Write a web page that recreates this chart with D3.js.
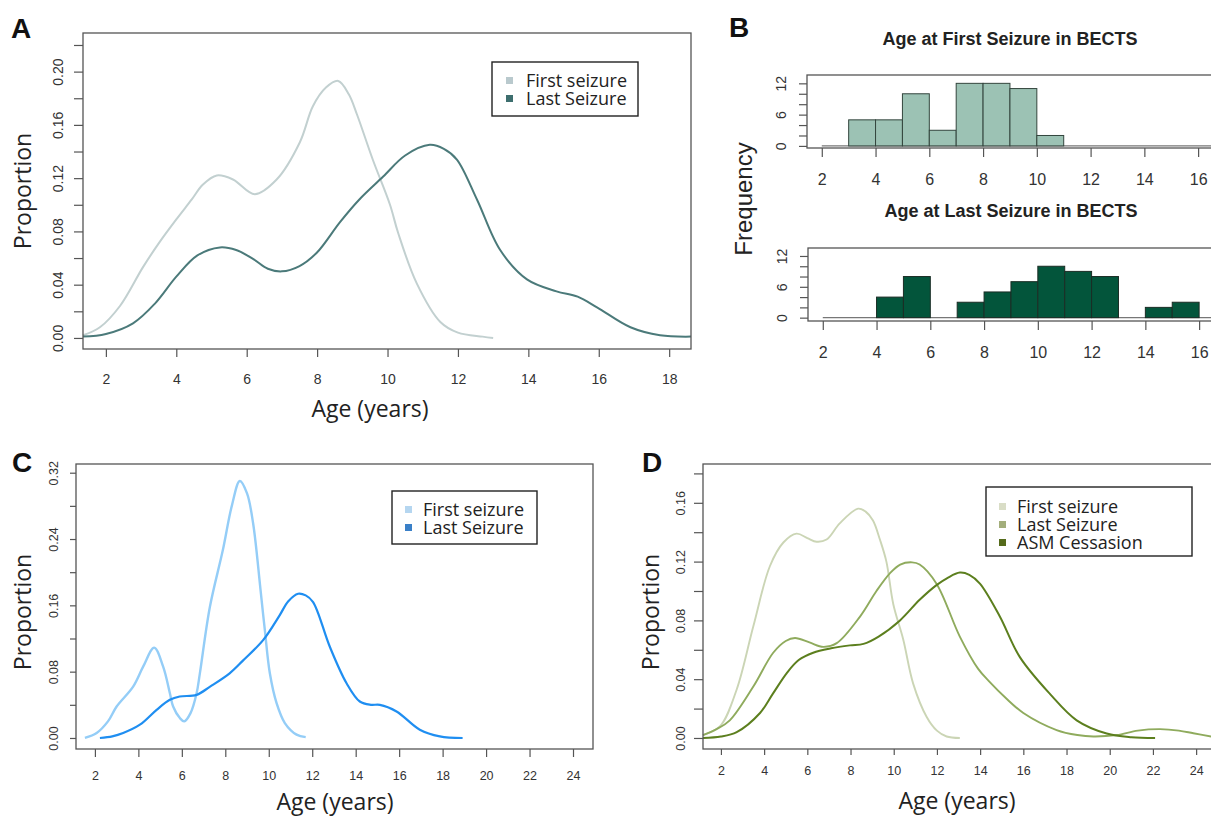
<!DOCTYPE html>
<html>
<head>
<meta charset="utf-8">
<script src="https://cdn.jsdelivr.net/npm/d3@7"></script>
<style>
  body { margin: 0; background: #fff; }
  svg { display: block; }
</style>
</head>
<body>
<svg id="fig" width="1211" height="817"></svg>
<script>
// ---------- data ----------

// panel A : density of age (years) -> proportion
var ageTicksA = [2, 4, 6, 8, 10, 12, 14, 16, 18];
var propTicksA = [0, 0.02, 0.04, 0.06, 0.08, 0.10, 0.12, 0.14, 0.16, 0.18, 0.20, 0.22];
var firstA = [[1.35,0.002],[1.83,0.008],[2.4,0.024],[3.05,0.053],[3.5,0.071],[4.0,0.089],[4.44,0.104],
  [4.75,0.115],[5.15,0.122],[5.61,0.119],[6.23,0.108],[6.85,0.119],[7.51,0.147],[7.88,0.174],[8.25,0.188],
  [8.6,0.193],[8.9,0.183],[9.13,0.168],[9.58,0.134],[10.07,0.100],[10.3,0.079],[10.83,0.041],[11.5,0.012],
  [12.0,0.004],[12.7,0.001],[13.0,0.0]];
var lastA = [[1.35,0.001],[2.0,0.003],[2.77,0.011],[3.4,0.026],[4.0,0.046],[4.6,0.062],[5.24,0.068],
  [5.7,0.066],[6.2,0.059],[6.6,0.052],[7.0,0.050],[7.5,0.054],[7.99,0.064],[8.65,0.087],[9.2,0.104],
  [9.87,0.121],[10.5,0.137],[11.2,0.145],[11.6,0.142],[11.97,0.134],[12.54,0.104],[13.2,0.066],
  [13.96,0.044],[14.8,0.035],[15.4,0.031],[15.95,0.023],[16.9,0.008],[17.74,0.002],[18.62,0.001]];

// panel B : histograms, one-year bins starting at these ages
var binStarts = [2, 3, 4, 5, 6, 7, 8, 9, 10, 11, 12, 13, 14, 15, 16];
var firstCounts = [0, 5, 5, 10, 3, 12, 12, 11, 2, 0, 0, 0, 0, 0, 0];
var lastCounts  = [0, 0, 4, 8, 0, 3, 5, 7, 10, 9, 8, 0, 2, 3, 0];
var ageTicksB = [2, 4, 6, 8, 10, 12, 14, 16];
var freqTicksB = [0, 2, 4, 6, 8, 10, 12];

// panel C
var ageTicksCD = [2, 4, 6, 8, 10, 12, 14, 16, 18, 20, 22, 24];
var propTicksC = [0, 0.04, 0.08, 0.12, 0.16, 0.20, 0.24, 0.28, 0.32];
var firstC = [[1.54,0.0],[2.08,0.006],[2.6,0.02],[3.0,0.038],[3.76,0.062],[4.22,0.086],[4.73,0.109],
  [5.14,0.086],[5.45,0.054],[5.6,0.038],[5.91,0.024],[6.11,0.02],[6.4,0.03],[6.68,0.054],[6.83,0.078],
  [7.29,0.158],[7.89,0.227],[8.3,0.28],[8.67,0.31],[9.0,0.295],[9.28,0.259],[9.62,0.179],[9.82,0.130],
  [10.05,0.078],[10.36,0.042],[10.74,0.018],[11.28,0.004],[11.7,0.001]];
var lastC = [[2.23,0.0],[2.8,0.002],[3.3,0.006],[4.07,0.016],[4.84,0.034],[5.45,0.046],[5.9,0.050],
  [6.68,0.052],[7.3,0.062],[8.2,0.078],[8.8,0.093],[9.74,0.118],[10.5,0.148],[10.9,0.165],[11.35,0.174],
  [11.7,0.172],[12.04,0.164],[12.81,0.110],[13.58,0.066],[14.19,0.044],[14.7,0.040],[15.11,0.040],
  [15.88,0.032],[16.95,0.010],[17.87,0.002],[18.92,0.0]];

// panel D
var propTicksD = [0, 0.02, 0.04, 0.06, 0.08, 0.10, 0.12, 0.14, 0.16, 0.18];
var firstD = [[1.17,0.002],[1.96,0.008],[2.73,0.033],[3.5,0.076],[4.27,0.117],[4.89,0.133],[5.5,0.139],
  [6.0,0.136],[6.43,0.1335],[6.89,0.135],[7.5,0.146],[8.35,0.156],[8.7,0.154],[9.04,0.148],[9.36,0.135],
  [9.66,0.120],[9.98,0.091],[10.44,0.067],[10.9,0.037],[11.52,0.0145],[12.0,0.005],[12.45,0.001],[13.06,0.0]];
var lastD = [[1.17,0.002],[1.8,0.006],[2.41,0.012],[3.5,0.035],[4.42,0.058],[5.0,0.066],[5.43,0.068],
  [6.1,0.065],[6.74,0.062],[7.36,0.0645],[8.44,0.0826],[9.2,0.100],[9.82,0.112],[10.3,0.118],[10.85,0.1195],
  [11.2,0.118],[11.98,0.105],[13.06,0.069],[13.91,0.047],[14.45,0.038],[15.2,0.027],[16.0,0.017],
  [17.54,0.0054],[18.5,0.002],[19.24,0.001],[20.32,0.002],[21.3,0.005],[22.33,0.006],[23.2,0.005],
  [23.87,0.0032],[24.7,0.001]];
var asmD = [[1.17,0.0],[2.0,0.001],[2.73,0.004],[3.81,0.017],[4.4,0.030],[5.04,0.044],[5.6,0.053],
  [6.27,0.058],[7.1,0.061],[7.97,0.063],[8.6,0.064],[9.3,0.069],[10.29,0.080],[11.2,0.094],[11.98,0.104],
  [12.5,0.109],[13.06,0.1125],[13.5,0.111],[13.99,0.105],[14.9,0.083],[15.84,0.055],[17.23,0.030],
  [18.47,0.012],[19.86,0.003],[21.0,0.0005],[22.1,0.0]];

var legendLabels2 = ["First seizure", "Last Seizure"];
var legendLabels3 = ["First seizure", "Last Seizure", "ASM Cessasion"];

// ---------- drawing ----------
var svg = d3.select("#fig");
svg.append("rect").attr("width", 1211).attr("height", 817).attr("fill", "#fff");

var tickFont = "'Liberation Sans', Arial, sans-serif";
var titleFont = "'Open Sans', 'Noto Sans', sans-serif";

function styleAxis(ax) {
  ax.attr("font-size", null).attr("font-family", null);
  ax.select(".domain").remove();
  ax.selectAll("line").attr("stroke", "#555").attr("stroke-width", 1.2);
}

function panelLetter(txt, px, py) {
  svg.append("text").attr("x", px).attr("y", py)
    .attr("font-family", tickFont).attr("font-weight", "bold")
    .attr("font-size", 28).attr("fill", "#111").text(txt);
}

function densityPanel(c) {
  var g = svg.append("g");
  var l = c.box[0], t = c.box[1], r = c.box[2], b = c.box[3];
  var x = d3.scaleLinear().domain(c.xDomain).range([l, r]);
  var y = d3.scaleLinear().domain(c.yDomain).range([b, t]);

  // smooth curve through the read-off points
  var line = d3.line()
    .x(function(d) { return x(d[0]); })
    .y(function(d) { return y(Math.max(0, d[1])); })
    .curve(d3.curveCatmullRom.alpha(0.5));

  c.series.forEach(function(s) {
    g.append("path").datum(s.data)
      .attr("d", line)
      .attr("fill", "none")
      .attr("stroke", s.color)
      .attr("stroke-width", s.width)
      .attr("stroke-linejoin", "round");
  });

  g.append("rect")
    .attr("x", l).attr("y", t)
    .attr("width", r - l).attr("height", b - t)
    .attr("fill", "none").attr("stroke", "#555").attr("stroke-width", 1.3);

  var xa = g.append("g").attr("transform", "translate(0," + b + ")")
    .call(d3.axisBottom(x).tickValues(c.xTicks).tickSize(c.xTickLen).tickSizeOuter(0));
  styleAxis(xa);
  xa.selectAll("text")
    .attr("y", c.xLabelBase - b).attr("dy", null)
    .attr("font-family", tickFont).attr("font-size", c.tickSize).attr("fill", "#333");

  var ya = g.append("g").attr("transform", "translate(" + l + ",0)")
    .call(d3.axisLeft(y).tickValues(c.yTicks).tickSize(c.yTickLen).tickSizeOuter(0)
      .tickFormat(function(d, i) { return i % c.yLabelEvery ? "" : d3.format(".2f")(d); }));
  styleAxis(ya);
  ya.selectAll("text")
    .attr("transform", "rotate(-90)")
    .attr("x", 0).attr("y", -(l - c.yLabelBase)).attr("dy", null)
    .attr("text-anchor", "middle")
    .attr("font-family", tickFont).attr("font-size", c.tickSize).attr("fill", "#333");

  // axis titles
  g.append("text").attr("x", c.xTitle[0]).attr("y", c.xTitle[1])
    .attr("text-anchor", "middle").attr("font-family", titleFont)
    .attr("font-size", 23).attr("fill", "#222").text("Age (years)");
  g.append("text")
    .attr("transform", "translate(" + c.yTitle[0] + "," + c.yTitle[1] + ") rotate(-90)")
    .attr("text-anchor", "middle").attr("font-family", titleFont)
    .attr("font-size", 23).attr("fill", "#222").text("Proportion");

  // legend
  var lg = c.legend;
  g.append("rect").attr("x", lg.x).attr("y", lg.y).attr("width", lg.w).attr("height", lg.h)
    .attr("fill", "#fff").attr("stroke", "#222").attr("stroke-width", 1.4);
  lg.labels.forEach(function(lab, i) {
    var by = lg.base + i * lg.rowH;
    g.append("rect").attr("x", lg.sqX).attr("y", by - 10).attr("width", 7).attr("height", 7)
      .attr("fill", lg.colors[i]);
    g.append("text").attr("x", lg.textX).attr("y", by)
      .attr("font-family", titleFont).attr("font-size", 18).attr("fill", "#222").text(lab);
  });
}

function histPanel(c) {
  var g = svg.append("g");
  var l = c.box[0], t = c.box[1], r = c.box[2], b = c.box[3];
  var x = d3.scaleLinear().domain(c.xDomain).range([l, r]);
  var y = d3.scaleLinear().domain(c.yDomain).range([b, t]);

  // zero line for the empty bins
  g.append("line")
    .attr("x1", x(binStarts[0])).attr("x2", x(binStarts[binStarts.length - 1] + 1))
    .attr("y1", y(0)).attr("y2", y(0))
    .attr("stroke", "#777").attr("stroke-width", 1.2);

  var bins = binStarts.map(function(s, i) { return { start: s, n: c.counts[i] }; })
    .filter(function(d) { return d.n > 0; });

  g.selectAll("rect.bar").data(bins).enter().append("rect")
    .attr("class", "bar")
    .attr("x", function(d) { return x(d.start); })
    .attr("width", function(d) { return x(d.start + 1) - x(d.start); })
    .attr("y", function(d) { return y(d.n); })
    .attr("height", function(d) { return y(0) - y(d.n); })
    .attr("fill", c.fill).attr("stroke", c.stroke).attr("stroke-width", 1);

  g.append("rect")
    .attr("x", l).attr("y", t)
    .attr("width", r - l).attr("height", b - t)
    .attr("fill", "none").attr("stroke", "#555").attr("stroke-width", 1.3);

  var xa = g.append("g").attr("transform", "translate(0," + b + ")")
    .call(d3.axisBottom(x).tickValues(ageTicksB).tickSize(9).tickSizeOuter(0));
  styleAxis(xa);
  xa.selectAll("text")
    .attr("y", 37).attr("dy", null)
    .attr("font-family", tickFont).attr("font-size", 16).attr("fill", "#333");

  var ya = g.append("g").attr("transform", "translate(" + l + ",0)")
    .call(d3.axisLeft(y).tickValues(freqTicksB).tickSize(8).tickSizeOuter(0)
      .tickFormat(function(d, i) { return i % 3 ? "" : d; }));
  styleAxis(ya);
  ya.selectAll("text")
    .attr("transform", "rotate(-90)")
    .attr("x", 0).attr("y", -21).attr("dy", null)
    .attr("text-anchor", "middle")
    .attr("font-family", tickFont).attr("font-size", 14).attr("fill", "#333");

  g.append("text").attr("x", c.title[0]).attr("y", c.title[1])
    .attr("text-anchor", "middle").attr("font-family", tickFont)
    .attr("font-weight", "bold").attr("font-size", 18).attr("fill", "#222").text(c.titleText);
}

// A
panelLetter("A", 11, 38);
densityPanel({
  box: [83, 33, 691, 349],
  xDomain: [1.35, 18.62], yDomain: [-0.0083, 0.229],
  xTicks: ageTicksA, yTicks: propTicksA, yLabelEvery: 2,
  xTickLen: 8, yTickLen: 9, tickSize: 14,
  xLabelBase: 384, yLabelBase: 63,
  xTitle: [370, 417], yTitle: [31, 191],
  series: [
    { data: firstA, color: "#c2d0d0", width: 2 },
    { data: lastA, color: "#4b7a7a", width: 2 }
  ],
  legend: { x: 492, y: 62, w: 146, h: 54, sqX: 506, textX: 526, base: 87, rowH: 18,
    labels: legendLabels2, colors: ["#b9c9cd", "#3d6e6e"] }
});

// B
panelLetter("B", 729, 37);
svg.append("text")
  .attr("transform", "translate(752,199) rotate(-90)")
  .attr("text-anchor", "middle").attr("font-family", tickFont)
  .attr("font-size", 24).attr("fill", "#222").text("Frequency");
histPanel({
  box: [807, 75, 1225, 148], xDomain: [1.45, 17], yDomain: [-0.4, 13.6],
  counts: firstCounts, fill: "#9cc2b4", stroke: "#33453d",
  title: [1010, 45], titleText: "Age at First Seizure in BECTS"
});
histPanel({
  box: [808, 248, 1226, 321], xDomain: [1.45, 17], yDomain: [-0.65, 13.55],
  counts: lastCounts, fill: "#03553b", stroke: "#1b2d25",
  title: [1011, 217], titleText: "Age at Last Seizure in BECTS"
});

// C
panelLetter("C", 12, 472);
densityPanel({
  box: [76, 464, 593, 749],
  xDomain: [1.13, 24.92], yDomain: [-0.0133, 0.3305],
  xTicks: ageTicksCD, yTicks: propTicksC, yLabelEvery: 2,
  xTickLen: 8, yTickLen: 6, tickSize: 12.5,
  xLabelBase: 780, yLabelBase: 58,
  xTitle: [335, 810], yTitle: [31, 612],
  series: [
    { data: firstC, color: "#94cdf7", width: 2.4 },
    { data: lastC, color: "#1f8ef1", width: 2.2 }
  ],
  legend: { x: 392, y: 491, w: 145, h: 53, sqX: 405, textX: 423, base: 516, rowH: 18,
    labels: legendLabels2, colors: ["#b5d6f0", "#3a80c8"] }
});

// D
panelLetter("D", 642, 472);
densityPanel({
  box: [703, 464, 1216, 749],
  xDomain: [1.17, 24.92], yDomain: [-0.0075, 0.1864],
  xTicks: ageTicksCD, yTicks: propTicksD, yLabelEvery: 2,
  xTickLen: 6, yTickLen: 9, tickSize: 12.5,
  xLabelBase: 775, yLabelBase: 685,
  xTitle: [957, 809], yTitle: [659, 612],
  series: [
    { data: firstD, color: "#cbd5b5", width: 1.9 },
    { data: lastD, color: "#8fab5d", width: 1.9 },
    { data: asmD, color: "#5c7f1e", width: 2 }
  ],
  legend: { x: 986, y: 487, w: 206, h: 69, sqX: 999, textX: 1017, base: 513, rowH: 18,
    labels: legendLabels3, colors: ["#d9ddc6", "#a3ae7b", "#556b1b"] }
});
</script>
</body>
</html>
